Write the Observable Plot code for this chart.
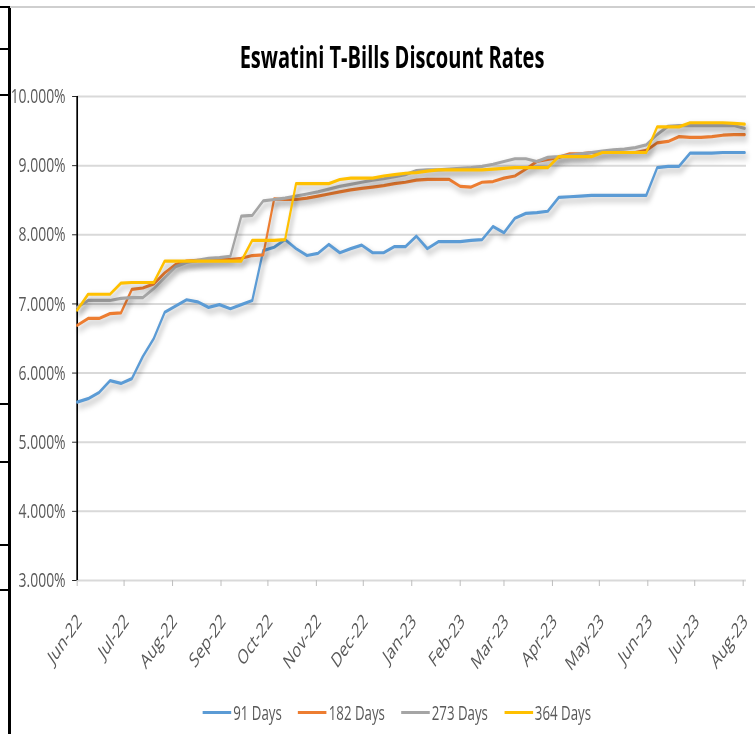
<!DOCTYPE html>
<html>
<head>
<meta charset="utf-8">
<script src="https://cdn.jsdelivr.net/npm/d3@7"></script>
<script src="https://cdn.jsdelivr.net/npm/@observablehq/plot@0.6"></script>
<style>
  html, body { margin: 0; padding: 0; background: #fff; width: 755px; height: 734px; overflow: hidden; }
  #wrap { position: absolute; left: 0; top: 0; width: 1110px; height: 734px; transform: scaleX(0.68); transform-origin: 0 0; font-family: "Open Sans", sans-serif; }
  #title { position: absolute; left: 0; width: 1153px; top: 36px; text-align: center; font-weight: 700; font-size: 29.5px; color: #000; line-height: normal; white-space: nowrap; }
  #chart { position: absolute; left: 0; top: 0; }
  #legend { position: absolute; left: 298px; top: 699px; display: flex; align-items: center; font-size: 19.5px; color: #595959; line-height: normal; white-space: nowrap; }
  #legend .item { display: flex; align-items: center; margin-right: 24px; }
  #legend .sw { width: 42px; height: 3px; margin-right: 3px; }
  #chart svg g[aria-label="line"] path { filter: drop-shadow(3px 4px 3px rgba(0,0,0,0.33)); }
  .bl { position: absolute; background: #000; }
</style>
</head>
<body>
<div class="bl" style="left:8px;top:7px;width:3px;height:727px;"></div>
<div style="position:absolute;left:10px;top:6px;width:745px;height:2px;background:#cfcfcf;"></div>
<div class="bl" style="left:0;top:6px;width:10px;height:2px;"></div>
<div class="bl" style="left:0;top:48px;width:10px;height:2px;"></div>
<div class="bl" style="left:0;top:94px;width:10px;height:2px;"></div>
<div class="bl" style="left:0;top:403px;width:10px;height:2px;"></div>
<div class="bl" style="left:0;top:461px;width:10px;height:2px;"></div>
<div class="bl" style="left:0;top:544px;width:10px;height:2px;"></div>
<div class="bl" style="left:0;top:589px;width:10px;height:2px;"></div>
<div id="wrap">
  <div id="chart"></div>
  <div id="title">Eswatini T-Bills Discount Rates</div>
  <div id="legend"></div>
</div>
<script>
// Auction dates (weekly)
const dates = [
  "2022-06-01","2022-06-08","2022-06-15","2022-06-22","2022-06-29",
  "2022-07-06","2022-07-13","2022-07-20","2022-07-27",
  "2022-08-03","2022-08-10","2022-08-17","2022-08-24","2022-08-31",
  "2022-09-07","2022-09-14","2022-09-21","2022-09-28",
  "2022-10-05","2022-10-12","2022-10-19","2022-10-26",
  "2022-11-02","2022-11-09","2022-11-16","2022-11-23","2022-11-30",
  "2022-12-07","2022-12-14","2022-12-21","2022-12-28",
  "2023-01-04","2023-01-11","2023-01-18","2023-01-25",
  "2023-02-01","2023-02-08","2023-02-15","2023-02-22",
  "2023-03-01","2023-03-08","2023-03-15","2023-03-22","2023-03-29",
  "2023-04-05","2023-04-12","2023-04-19","2023-04-26",
  "2023-05-03","2023-05-10","2023-05-17","2023-05-24","2023-05-31",
  "2023-06-07","2023-06-14","2023-06-21","2023-06-28",
  "2023-07-05","2023-07-12","2023-07-19","2023-07-26",
  "2023-08-02"
];

// Discount rates (%)
const days91 = [
  5.58,5.63,5.72,5.89,5.85,5.92,6.24,6.50,6.88,6.97,
  7.06,7.03,6.95,6.99,6.93,6.99,7.05,7.77,7.82,7.93,
  7.80,7.70,7.73,7.86,7.74,7.80,7.85,7.74,7.74,7.83,
  7.83,7.98,7.80,7.90,7.90,7.90,7.92,7.93,8.12,8.03,
  8.24,8.31,8.32,8.34,8.54,8.55,8.56,8.57,8.57,8.57,
  8.57,8.57,8.57,8.97,8.99,8.99,9.18,9.18,9.18,9.19,
  9.19,9.19
];
const days182 = [
  6.69,6.79,6.79,6.86,6.87,7.21,7.23,7.29,7.45,7.57,
  7.62,7.63,7.63,7.64,7.64,7.66,7.70,7.71,8.52,8.51,
  8.51,8.53,8.56,8.59,8.62,8.65,8.67,8.69,8.71,8.74,
  8.76,8.79,8.80,8.80,8.80,8.70,8.69,8.76,8.77,8.82,
  8.85,8.95,9.06,9.09,9.12,9.17,9.17,9.19,9.19,9.20,
  9.19,9.19,9.22,9.33,9.35,9.42,9.41,9.41,9.42,9.44,
  9.45,9.45
];
const days273 = [
  6.95,7.05,7.05,7.05,7.08,7.09,7.09,7.22,7.38,7.54,
  7.60,7.63,7.66,7.67,7.69,8.27,8.28,8.49,8.51,8.53,
  8.56,8.59,8.62,8.66,8.70,8.73,8.76,8.79,8.81,8.84,
  8.87,8.93,8.94,8.94,8.95,8.96,8.97,8.99,9.02,9.06,
  9.10,9.10,9.06,9.12,9.13,9.15,9.17,9.19,9.21,9.23,
  9.24,9.26,9.30,9.45,9.57,9.58,9.58,9.58,9.58,9.58,
  9.58,9.54
];
const days364 = [
  6.91,7.14,7.14,7.14,7.30,7.31,7.31,7.31,7.62,7.62,
  7.62,7.62,7.62,7.62,7.62,7.62,7.92,7.92,7.92,7.93,
  8.74,8.74,8.74,8.74,8.80,8.82,8.82,8.82,8.85,8.87,
  8.89,8.90,8.92,8.94,8.94,8.94,8.94,8.94,8.95,8.96,
  8.97,8.97,8.97,8.97,9.13,9.13,9.13,9.13,9.19,9.19,
  9.19,9.19,9.19,9.56,9.56,9.56,9.62,9.62,9.62,9.62,
  9.61,9.60
];

const seriesNames = ["91 Days", "182 Days", "273 Days", "364 Days"];
const seriesColors = ["#5B9BD5", "#ED7D31", "#A5A5A5", "#FFC000"];
const seriesValues = [days91, days182, days273, days364];

const yTicks = [3, 4, 5, 6, 7, 8, 9, 10];
const yTickLabels = ["3.000%","4.000%","5.000%","6.000%","7.000%","8.000%","9.000%","10.000%"];
const monthTicks = ["2022-06-01","2022-07-01","2022-08-01","2022-09-01","2022-10-01","2022-11-01","2022-12-01",
  "2023-01-01","2023-02-01","2023-03-01","2023-04-01","2023-05-01","2023-06-01","2023-07-01","2023-08-01"];
const monthLabels = ["Jun-22","Jul-22","Aug-22","Sep-22","Oct-22","Nov-22","Dec-22",
  "Jan-23","Feb-23","Mar-23","Apr-23","May-23","Jun-23","Jul-23","Aug-23"];

const parse = d3.utcParse("%Y-%m-%d");
const months = monthTicks.map((d, i) => ({date: parse(d), label: monthLabels[i]}));
const series = seriesValues.map((vals, s) =>
  vals.map((v, i) => ({date: parse(dates[i]), value: v, name: seriesNames[s]})));

const xStart = parse("2022-06-01");
const xEnd = parse("2023-08-03");

const chart = Plot.plot({
  width: 1110,
  height: 680,
  marginLeft: 113,
  marginRight: 13,
  marginTop: 96,
  marginBottom: 100,
  x: {type: "utc", domain: [xStart, xEnd]},
  y: {domain: [3, 10]},
  style: {fontFamily: '"Open Sans", sans-serif', fontSize: "20px", color: "#595959", background: "transparent", overflow: "visible"},
  marks: [
    Plot.gridY(yTicks, {stroke: "#d9d9d9", strokeOpacity: 1, strokeWidth: 2}),
    Plot.ruleX([xStart], {stroke: "#000", strokeWidth: 2.5}),
    Plot.axisY(yTicks, {tickFormat: d => yTickLabels[yTicks.indexOf(d)], tickSize: 7, tickPadding: 10,
      stroke: "#000", fill: "#595959", fontSize: 20.5, label: null}),
    Plot.axisX(months.map(d => d.date), {tickSize: 6, tickFormat: () => "", stroke: "#bfbfbf", strokeWidth: 1.5, label: null}),
    Plot.text(months, {x: "date", text: "label", frameAnchor: "bottom", rotate: -45, textAnchor: "end",
      lineAnchor: "bottom", dx: 8, dy: 42, fill: "#595959", fontSize: 20.5}),
    ...series.map((rows, s) => Plot.line(rows, {x: "date", y: "value", stroke: seriesColors[s], strokeWidth: 3.2,
      strokeLinejoin: "round", strokeLinecap: "round"}))
  ]
});
document.getElementById("chart").appendChild(chart);

const legend = document.getElementById("legend");
seriesNames.forEach((name, i) => {
  const item = document.createElement("div");
  item.className = "item";
  const sw = document.createElement("div");
  sw.className = "sw";
  sw.style.background = seriesColors[i];
  const t = document.createElement("span");
  t.textContent = name;
  item.appendChild(sw);
  item.appendChild(t);
  legend.appendChild(item);
});
</script>
</body>
</html>
